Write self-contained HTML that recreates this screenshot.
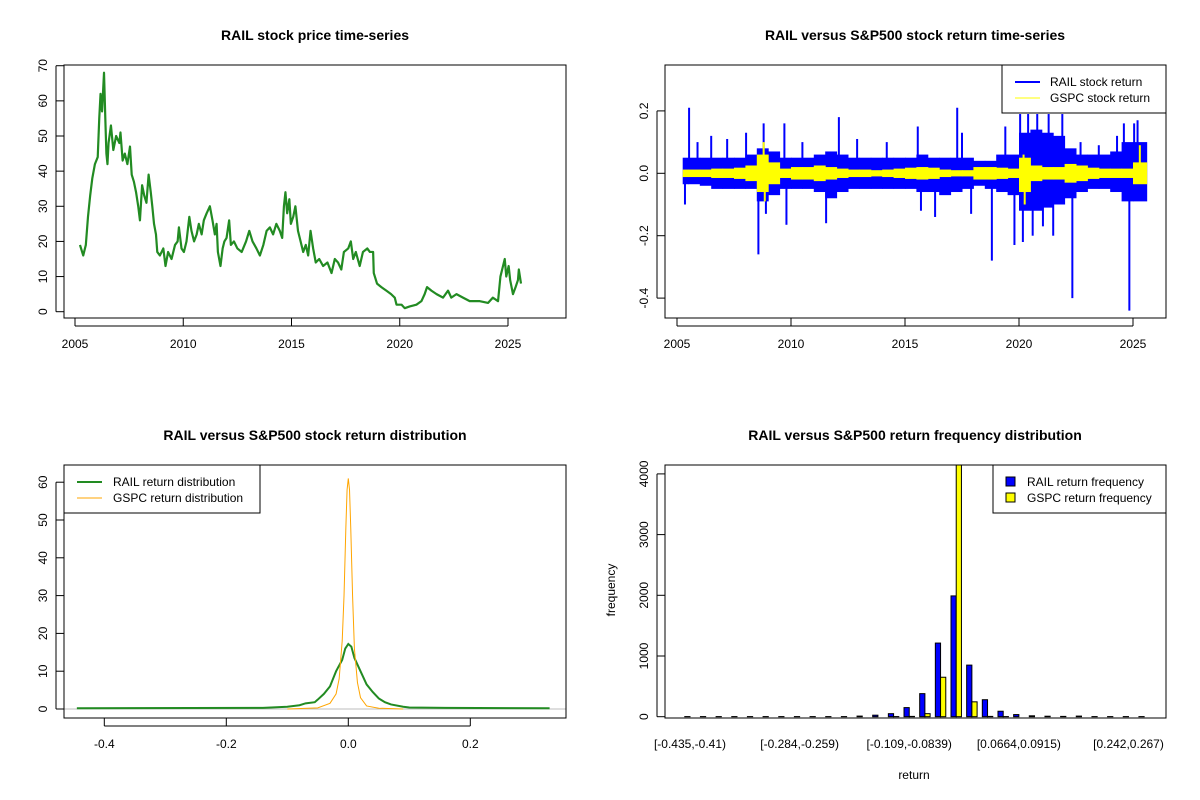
<!DOCTYPE html>
<html><head><meta charset="utf-8"><style>
html,body{margin:0;padding:0;background:#fff}
svg{display:block;font-family:"Liberation Sans",Arial,sans-serif}
</style></head><body>
<svg id="c" width="1200" height="800" viewBox="0 0 1200 800"></svg>
<script>
// ---------- Panel 1: price ----------
const priceYears=[2005.23,2005.38,2005.5,2005.6,2005.7,2005.8,2005.92,2006.05,2006.12,2006.18,2006.25,2006.34,2006.4,2006.45,2006.5,2006.55,2006.66,2006.77,2006.9,2007.05,2007.1,2007.2,2007.3,2007.42,2007.54,2007.62,2007.72,2007.82,2007.92,2008.0,2008.1,2008.2,2008.3,2008.4,2008.5,2008.57,2008.65,2008.74,2008.8,2008.92,2009.08,2009.18,2009.3,2009.46,2009.62,2009.74,2009.8,2009.92,2010.03,2010.15,2010.28,2010.38,2010.5,2010.62,2010.72,2010.85,2010.95,2011.08,2011.23,2011.35,2011.46,2011.54,2011.6,2011.72,2011.82,2011.9,2012.0,2012.12,2012.2,2012.34,2012.5,2012.7,2012.9,2013.05,2013.2,2013.38,2013.54,2013.7,2013.85,2014.0,2014.15,2014.3,2014.46,2014.57,2014.65,2014.72,2014.8,2014.9,2014.97,2015.08,2015.18,2015.3,2015.42,2015.54,2015.66,2015.77,2015.88,2016.0,2016.12,2016.28,2016.46,2016.66,2016.85,2017.0,2017.15,2017.3,2017.42,2017.62,2017.74,2017.85,2017.97,2018.15,2018.3,2018.5,2018.62,2018.77,2018.8,2018.95,2019.15,2019.38,2019.6,2019.77,2019.85,2020.08,2020.23,2020.46,2020.77,2021.0,2021.15,2021.26,2021.46,2021.7,2022.0,2022.23,2022.38,2022.62,2022.92,2023.23,2023.7,2024.08,2024.3,2024.54,2024.65,2024.77,2024.85,2024.92,2025.03,2025.1,2025.23,2025.35,2025.46,2025.5,2025.6];
const priceValues=[19,16,19,27,33,38,42,44,55,62,57,68,55,45,42,48,53,46,50,48,51,43,45,42,47,39,37,34,30,26,36,33,31,39,34,30,25,22,17,16,18,13,17,15,19,20,24,18,17,20,27,23,20,22,25,22,26,28,30,26,22,25,17,13,18,20,21,26,19,20,18,17,20,23,20,18,16,19,23,24,22,25,23,21,30,34,28,32,25,27,30,23,20,17,19,16,23,18,14,15,13,14,11,15,14,12,17,18,20,15,17,13,17,18,17,17,11,8,7,6,5,4,2,2,1,1.5,2,3,5,7,6,5,4,6,4,5,4,3,3,2.5,4,3,10,13,15,10,13,9,5,7,9,12,8];
const priceTicks=[0,10,20,30,40,50,60,70];
const yearTicks=[2005,2010,2015,2020,2025];
// ---------- Panel 2: returns (half-year envelopes + spikes) ----------
const bucketStart=[2005.25,2005.5,2006,2006.5,2007,2007.5,2008,2008.5,2009,2009.5,2010,2010.5,2011,2011.5,2012,2012.5,2013,2013.5,2014,2014.5,2015,2015.5,2016,2016.5,2017,2017.5,2018,2018.5,2019,2019.5,2020,2020.5,2021,2021.5,2022,2022.5,2023,2023.5,2024,2024.5,2025];
const railHi=[0.05,0.05,0.05,0.05,0.05,0.05,0.06,0.08,0.07,0.05,0.05,0.05,0.06,0.07,0.06,0.05,0.05,0.05,0.05,0.05,0.05,0.06,0.05,0.05,0.05,0.05,0.04,0.04,0.06,0.06,0.13,0.14,0.13,0.12,0.08,0.06,0.06,0.06,0.07,0.1,0.1];
const railLo=[-0.035,-0.035,-0.04,-0.05,-0.05,-0.05,-0.05,-0.09,-0.07,-0.05,-0.05,-0.05,-0.06,-0.08,-0.06,-0.05,-0.05,-0.05,-0.05,-0.05,-0.05,-0.06,-0.06,-0.07,-0.06,-0.05,-0.04,-0.05,-0.06,-0.07,-0.12,-0.12,-0.11,-0.1,-0.08,-0.06,-0.05,-0.05,-0.06,-0.09,-0.09];
const gspcHi=[0.012,0.012,0.012,0.015,0.015,0.018,0.025,0.06,0.035,0.015,0.02,0.02,0.025,0.02,0.015,0.012,0.012,0.01,0.012,0.015,0.018,0.02,0.018,0.012,0.01,0.01,0.02,0.02,0.018,0.015,0.05,0.025,0.02,0.02,0.03,0.025,0.018,0.015,0.015,0.015,0.035];
const gspcLo=[-0.012,-0.012,-0.012,-0.015,-0.015,-0.018,-0.025,-0.06,-0.035,-0.015,-0.02,-0.02,-0.025,-0.02,-0.015,-0.012,-0.012,-0.01,-0.012,-0.015,-0.018,-0.02,-0.018,-0.012,-0.01,-0.01,-0.02,-0.02,-0.018,-0.015,-0.06,-0.025,-0.02,-0.02,-0.03,-0.025,-0.018,-0.015,-0.015,-0.015,-0.035];
const spikeYears=[2005.35,2005.53,2005.9,2006.5,2007.2,2008.03,2008.57,2008.8,2008.9,2009.71,2009.8,2010.5,2011.54,2012.1,2012.9,2014.2,2015.56,2015.7,2016.32,2017.29,2017.5,2017.9,2018.81,2019.4,2019.8,2020.05,2020.17,2020.4,2020.6,2020.8,2021.05,2021.3,2021.5,2021.9,2022.34,2022.7,2023.5,2024.3,2024.6,2024.84,2025.05,2025.2];
const spikeVals=[-0.1,0.21,0.1,0.12,0.11,0.13,-0.26,0.16,-0.13,0.16,-0.165,0.1,-0.16,0.18,0.11,0.1,0.15,-0.12,-0.14,0.21,0.13,-0.13,-0.28,0.15,-0.23,0.19,-0.22,0.19,-0.2,0.19,-0.17,0.19,-0.2,0.19,-0.4,0.1,0.09,0.12,0.16,-0.44,0.16,0.17];
const gspcSpikeYears=[2008.8,2008.85,2020.2,2020.25,2025.3];
const gspcSpikeVals=[0.1,-0.09,0.06,-0.1,0.09];
const retTicks=[-0.4,-0.2,0,0.2];
const retTickLabels=["-0.4","-0.2","0.0","0.2"];
// ---------- Panel 3: densities ----------
const railDensX=[-0.445,-0.14,-0.1,-0.08,-0.07,-0.055,-0.05,-0.04,-0.03,-0.025,-0.02,-0.01,-0.005,0,0.005,0.01,0.02,0.03,0.04,0.05,0.06,0.07,0.09,0.1,0.16,0.33];
const railDensY=[0.2,0.3,0.6,1,1.5,1.8,2.5,4,6,8,10,13,16,17.2,16.5,13.5,10,6.5,4.5,2.8,1.8,1.2,0.6,0.4,0.3,0.2];
const gspcDensX=[-0.1,-0.05,-0.03,-0.02,-0.015,-0.01,-0.007,-0.004,-0.002,0,0.002,0.004,0.007,0.01,0.015,0.02,0.03,0.05,0.09];
const gspcDensY=[0,0.3,1.5,4,8,18,30,48,58,61,58,48,30,16,7,3,0.8,0.2,0];
const densXTicks=[-0.4,-0.2,0,0.2];
const densXLabels=["-0.4","-0.2","0.0","0.2"];
const densYTicks=[0,10,20,30,40,50,60];
// ---------- Panel 4: histogram ----------
const railFreq=[2,2,2,2,2,2,2,2,2,2,2,10,25,50,150,380,1213,1990,850,280,90,35,15,8,5,10,2,2,2,2];
const gspcFreq=[0,0,0,0,0,0,0,0,0,0,0,0,0,2,5,50,650,4700,245,5,2,0,0,0,0,0,0,0,0,0];
const binLabelIdx=[0,7,14,21,28];
const binLabels=["[-0.435,-0.41)","[-0.284,-0.259)","[-0.109,-0.0839)","[0.0664,0.0915)","[0.242,0.267)"];
const freqTicks=[0,1000,2000,3000,4000];

const svg=document.getElementById('c');
const NS='http://www.w3.org/2000/svg';
function mk(tag,attrs,parent){const e=document.createElementNS(NS,tag);for(const k in attrs)e.setAttribute(k,attrs[k]);(parent||svg).appendChild(e);return e;}
function txt(s,x,y,o,parent){const t=mk('text',Object.assign({x:x,y:y,'font-size':12,'text-anchor':'middle',fill:'#000'},o||{}),parent);t.textContent=s;return t;}
function lin(sx,sy){return{x:v=>sx[0]+(v-sx[1])*sx[2],y:v=>sy[0]-(v-sy[1])*sy[2]};}

function frame(L,T,R,B,name){const r=mk('rect',{x:L,y:T,width:R-L,height:B-T,fill:'none',stroke:'#000','stroke-width':1});}
function yAxis(ticks,labels,fy,L,T,B,name){const g=mk('g',{});
  mk('line',{x1:L-8,x2:L-8,y1:fy(ticks[0]),y2:fy(ticks[ticks.length-1]),stroke:'#000'},g);
  ticks.forEach((v,i)=>{const y=fy(v);mk('line',{x1:L-8,x2:L,y1:y,y2:y,stroke:'#000'},g);
    txt(labels[i],L-17,y,{transform:`rotate(-90 ${L-17} ${y})`},g);});}
function xAxis(ticks,labels,fx,B,name){const g=mk('g',{});
  mk('line',{x1:fx(ticks[0]),x2:fx(ticks[ticks.length-1]),y1:B+8,y2:B+8,stroke:'#000'},g);
  ticks.forEach((v,i)=>{const x=fx(v);mk('line',{x1:x,x2:x,y1:B,y2:B+8,stroke:'#000'},g);txt(labels[i],x,B+30,{},g);});}
function title(s,x,y,name){const t=txt(s,x,y,{'font-size':14,'font-weight':'bold'});}

// Panel 1
(function(){const L=64,T=65,R=566,B=318;const s=lin([75,2005,21.65],[311.7,0,3.514]);
  title('RAIL stock price time-series',315,40,'price-chart-title');
  const p=mk('polyline',{points:priceYears.map((y,i)=>s.x(y)+','+s.y(priceValues[i])).join(' '),fill:'none',stroke:'#228B22','stroke-width':2.2,'stroke-linejoin':'round'});
  
  frame(L,T,R,B,'price-plot-frame');
  yAxis(priceTicks,priceTicks.map(String),s.y,L,T,B,'price-y-axis');
  xAxis(yearTicks,yearTicks.map(String),s.x,B,'price-x-axis');})();

// Panel 2
(function(){const L=665,T=65,R=1166,B=318;const s=lin([677,2005,22.8],[173.3,0,312]);
  title('RAIL versus S&P500 stock return time-series',915,40,'return-chart-title');
  const cp=mk('clipPath',{id:'cp2'});mk('rect',{x:L,y:T,width:R-L,height:B-T},cp);
  const g=mk('g',{'clip-path':'url(#cp2)'});
  const endYear=2025.6;
  function band(hi,lo,col,parent,name){
    bucketStart.forEach((b,i)=>{const e=i<bucketStart.length-1?bucketStart[i+1]:endYear;
      const r=mk('rect',{x:s.x(b),y:s.y(hi[i]),width:s.x(e)-s.x(b)+0.5,height:s.y(lo[i])-s.y(hi[i]),fill:col},parent);
      });}
  band(railHi,railLo,'#0000FF',g,'rail-return-band');
  spikeYears.forEach((y,i)=>{const l=mk('line',{x1:s.x(y),x2:s.x(y),y1:s.y(0),y2:s.y(spikeVals[i]),stroke:'#0000FF','stroke-width':2},g);
    });
  const g2=mk('g',{'clip-path':'url(#cp2)'});
  band(gspcHi,gspcLo,'#FFFF00',g2,'gspc-return-band');
  gspcSpikeYears.forEach((y,i)=>{const l=mk('line',{x1:s.x(y),x2:s.x(y),y1:s.y(0),y2:s.y(gspcSpikeVals[i]),stroke:'#FFFF00','stroke-width':2},g2);
    });
  frame(L,T,R,B,'return-plot-frame');
  yAxis(retTicks,retTickLabels,s.y,L,T,B,'return-y-axis');
  xAxis(yearTicks,yearTicks.map(String),s.x,B,'return-x-axis');
  const lg=mk('g',{});
  mk('rect',{x:1002,y:65,width:164,height:48,fill:'#fff',stroke:'#000'},lg);
  mk('line',{x1:1015,x2:1040,y1:82,y2:82,stroke:'#0000FF','stroke-width':2},lg);
  mk('line',{x1:1015,x2:1040,y1:98,y2:98,stroke:'#FFFF00','stroke-width':1},lg);
  txt('RAIL stock return',1050,86,{'text-anchor':'start'},lg);
  txt('GSPC stock return',1050,102,{'text-anchor':'start'},lg);})();

// Panel 3
(function(){const L=64,T=465,R=566,B=718;const s=lin([348.3,0,610],[709,0,3.78]);
  title('RAIL versus S&P500 stock return distribution',315,440,'distribution-chart-title');
  const a=mk('line',{x1:L,x2:R,y1:s.y(0),y2:s.y(0),stroke:'#BEBEBE'});
  const p1=mk('polyline',{points:railDensX.map((x,i)=>s.x(x)+','+s.y(railDensY[i])).join(' '),fill:'none',stroke:'#228B22','stroke-width':2});
  
  const p2=mk('polyline',{points:gspcDensX.map((x,i)=>s.x(x)+','+s.y(gspcDensY[i])).join(' '),fill:'none',stroke:'#FFA500','stroke-width':1});
  
  frame(L,T,R,B,'distribution-plot-frame');
  yAxis(densYTicks,densYTicks.map(String),s.y,L,T,B,'distribution-y-axis');
  xAxis(densXTicks,densXLabels,s.x,B,'distribution-x-axis');
  const lg=mk('g',{});
  mk('rect',{x:64,y:465,width:196,height:48,fill:'#fff',stroke:'#000'},lg);
  mk('line',{x1:77,x2:102,y1:482,y2:482,stroke:'#228B22','stroke-width':2},lg);
  mk('line',{x1:77,x2:102,y1:498,y2:498,stroke:'#FFA500','stroke-width':1},lg);
  txt('RAIL return distribution',113,486,{'text-anchor':'start'},lg);
  txt('GSPC return distribution',113,502,{'text-anchor':'start'},lg);})();

// Panel 4
(function(){const L=665,T=465,R=1166,B=718;const gw=15.66,c0=690,u=gw/3;
  const fy=v=>716.7-v*0.0607;const cx=k=>c0+gw*k;
  title('RAIL versus S&P500 return frequency distribution',915,440,'frequency-chart-title');
  const cp=mk('clipPath',{id:'cp4'});mk('rect',{x:L,y:T,width:R-L,height:B-T},cp);
  const g=mk('g',{'clip-path':'url(#cp4)'});
  railFreq.forEach((v,k)=>{const r=mk('rect',{x:cx(k)-u,y:fy(v),width:u,height:fy(0)-fy(v),fill:'#0000FF',stroke:'#000','stroke-width':1},g);
    });
  gspcFreq.forEach((v,k)=>{const r=mk('rect',{x:cx(k),y:fy(v),width:u,height:fy(0)-fy(v),fill:'#FFFF00',stroke:'#000','stroke-width':1},g);
    });
  frame(L,T,R,B,'frequency-plot-frame');
  yAxis(freqTicks,freqTicks.map(String),fy,L,T,B,'frequency-y-axis');
  const xg=mk('g',{});
  binLabelIdx.forEach((k,i)=>txt(binLabels[i],cx(k),748,{},xg));
  const yt=txt('frequency',615,590,{transform:'rotate(-90 615 590)'});
  const xt=txt('return',914,779);
  const lg=mk('g',{});
  mk('rect',{x:993,y:465,width:173,height:48,fill:'#fff',stroke:'#000'},lg);
  mk('rect',{x:1006,y:477,width:9,height:9,fill:'#0000FF',stroke:'#000'},lg);
  mk('rect',{x:1006,y:493,width:9,height:9,fill:'#FFFF00',stroke:'#000'},lg);
  txt('RAIL return frequency',1027,486,{'text-anchor':'start'},lg);
  txt('GSPC return frequency',1027,502,{'text-anchor':'start'},lg);})();
</script>
</body></html>
